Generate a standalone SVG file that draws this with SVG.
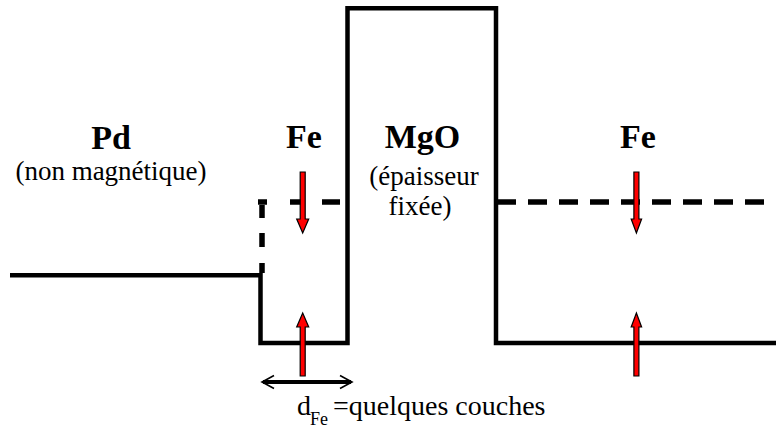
<svg xmlns="http://www.w3.org/2000/svg" width="776" height="430" viewBox="0 0 776 430">
<style>
.solid{fill:none;stroke:#000;stroke-width:4.5}
.dash{fill:none;stroke:#000;stroke-width:5.5}
.mom{fill:#ff0000;stroke:#000;stroke-width:1.2}
text{font-family:'Liberation Serif','Times New Roman',serif !important}
.b{font-weight:bold;font-size:34px}
.r{font-size:27px}
</style>
<rect width="776" height="430" fill="#fff"/>
<g id="profile">
<path class="solid" d="M10,275.3 H260.5 V343 H347.5 V8.3 H496 V343 H776"/>
</g>
<g id="dashed-left">
<path class="dash" d="M262,273 V263 M262,247 V233 M262,218 V205 M258,202 H267 M290,202 H303 M322,202 H340"/>
</g>
<g id="dashed-right">
<path class="dash" d="M497,202 H776" stroke-dasharray="19 12"/>
</g>
<g id="pd">
<text class="b" x="111" y="149" text-anchor="middle" style="font-family:'Liberation Serif','Times New Roman',serif !important">Pd</text>
<text class="r" x="111" y="180" text-anchor="middle" style="font-family:'Liberation Serif','Times New Roman',serif !important">(non magnétique)</text>
</g>
<g id="fe-left">
<text class="b" x="304" y="148" text-anchor="middle" style="font-family:'Liberation Serif','Times New Roman',serif !important">Fe</text>
</g>
<g id="mgo">
<text class="b" x="422.5" y="148" text-anchor="middle" style="font-family:'Liberation Serif','Times New Roman',serif !important">MgO</text>
<text class="r" x="424" y="185" text-anchor="middle" style="font-family:'Liberation Serif','Times New Roman',serif !important">(épaisseur</text>
<text class="r" x="420" y="215" text-anchor="middle" style="font-family:'Liberation Serif','Times New Roman',serif !important">fixée)</text>
</g>
<g id="fe-right">
<text class="b" x="638" y="148" text-anchor="middle" style="font-family:'Liberation Serif','Times New Roman',serif !important">Fe</text>
</g>
<g id="moments">
<path class="mom" d="M300.2,172 H305.2 V219 H308.7 L302.7,233 L296.7,219 H300.2 Z"/>
<path class="mom" d="M300.2,376 H305.2 V327 H308.7 L302.7,313 L296.7,327 H300.2 Z"/>
<path class="mom" d="M633.9,172 H638.9 V219 H641.6 L636.4,233 L631.2,219 H633.9 Z"/>
<path class="mom" d="M633.9,376 H638.9 V327 H641.6 L636.4,313 L631.2,327 H633.9 Z"/>
</g>
<g id="connectors" fill="none" stroke="#000">
<line x1="263" y1="382" x2="351" y2="382" stroke-width="4"/>
<path d="M274,375.5 L262,382 L274,388.5 M340,375.5 L352,382 L340,388.5" stroke-width="1.6"/>
</g>
<g id="dfe">
<text x="297" y="415" font-size="28" style="font-family:'Liberation Serif','Times New Roman',serif !important">d</text>
<text x="310" y="425" font-size="18" style="font-family:'Liberation Serif','Times New Roman',serif !important">Fe</text>
<text x="333" y="415" font-size="28" style="font-family:'Liberation Serif','Times New Roman',serif !important">=quelques couches</text>
</g>
</svg>
